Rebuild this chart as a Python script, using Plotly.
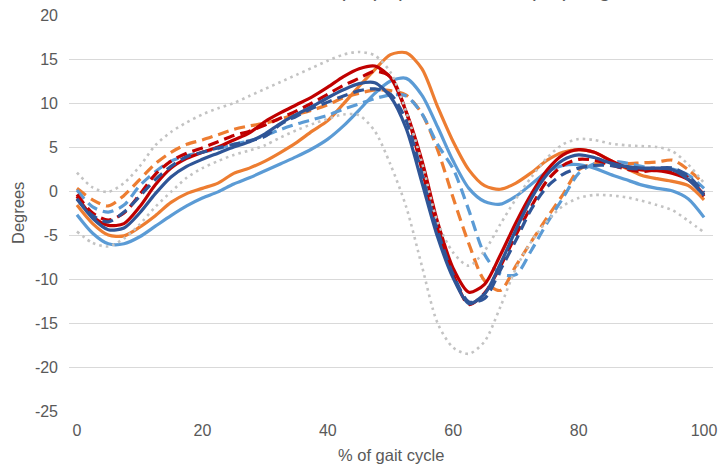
import plotly.graph_objects as go

# % of gait cycle
gait_pct = [0, 2.5, 5, 7.5, 10, 12.5, 15, 17.5, 20, 22.5, 25, 27.5, 30, 32.5, 35, 37.5, 40,
            42.5, 45, 47.5, 50, 52.5, 55, 57.5, 60, 62.5, 65, 67.5, 70, 72.5, 75, 77.5, 80,
            82.5, 85, 87.5, 90, 92.5, 95, 97.5, 100]

orange_solid = [-1.6, -3.7, -5.0, -5.1, -4.1, -2.8, -1.3, -0.3, 0.3, 0.9, 2.0, 2.6, 3.4, 4.4, 5.5, 6.8, 8.0,
                9.9, 11.9, 13.8, 15.5, 15.7, 13.9, 9.6, 5.6, 2.4, 0.6, 0.2, 0.9, 2.1, 3.5, 4.4, 4.7,
                4.4, 3.5, 2.6, 1.8, 1.4, 1.1, 0.6, -1.0]
orange_dashed = [0.3, -1.0, -1.7, -0.5, 1.3, 3.1, 4.4, 5.3, 5.8, 6.4, 7.0, 7.4, 7.7, 8.2, 8.7, 9.2, 9.8,
                 10.6, 11.1, 11.5, 11.4, 10.9, 8.8, 4.7, -0.8, -6.0, -10.2, -11.3, -8.5, -5.7, -3.0, -0.4, 2.4,
                 3.1, 3.1, 3.1, 3.2, 3.3, 3.5, 2.4, 0.8]
lightblue_solid = [-2.7, -4.8, -6.0, -6.0, -5.2, -4.0, -2.8, -1.7, -0.8, -0.1, 0.8, 1.5, 2.3, 3.1, 3.9, 4.8, 5.9,
                   7.4, 9.2, 11.1, 12.5, 12.8, 10.9, 7.3, 3.4, 0.3, -1.2, -1.5, -0.6, 0.8, 2.2, 2.9, 3.0,
                   2.6, 1.9, 1.3, 0.7, 0.3, 0.0, -0.9, -3.0]
lightblue_dashed = [0.1, -1.8, -2.4, -1.6, 0.6, 2.2, 3.4, 4.0, 4.4, 4.8, 5.3, 5.7, 6.3, 7.0, 7.6, 8.1, 8.6,
                    9.3, 9.9, 10.5, 10.9, 10.8, 8.8, 5.3, 2.5, -2.2, -7.2, -9.4, -9.5, -6.7, -3.6, -0.8, 2.0,
                    3.1, 3.4, 3.2, 2.8, 2.5, 2.5, 1.8, 0.3]
red_solid = [-0.6, -2.9, -3.9, -3.7, -1.8, 0.7, 2.6, 3.7, 4.4, 5.0, 5.8, 6.6, 7.9, 8.9, 9.8, 10.7, 11.8,
             13.0, 13.9, 14.2, 12.9, 9.0, 3.5, -3.5, -8.8, -11.5, -10.6, -7.3, -3.6, -0.3, 2.4, 4.1, 4.7,
             4.4, 3.5, 2.7, 2.4, 2.3, 2.0, 1.3, -0.4]
red_dashed = [-0.4, -2.5, -3.3, -2.5, -0.4, 1.9, 3.4, 4.3, 4.9, 5.6, 6.3, 6.8, 7.5, 8.3, 9.1, 10.0, 11.0,
              12.0, 12.8, 13.6, 13.0, 9.0, 2.5, -4.5, -9.5, -12.9, -11.6, -8.6, -5.0, -1.7, 1.2, 2.9, 3.6,
              3.5, 3.0, 2.5, 2.2, 2.4, 2.3, 1.5, -0.6]
darkblue_solid = [-0.9, -3.1, -4.4, -4.2, -2.5, -0.3, 1.6, 2.8, 3.6, 4.3, 5.0, 5.6, 6.5, 7.7, 8.7, 9.6, 10.6,
                  11.5, 12.2, 12.3, 10.7, 7.1, 1.0, -5.2, -9.9, -12.8, -11.7, -8.3, -4.4, -0.8, 1.9, 3.5, 4.1,
                  3.8, 3.2, 2.8, 2.6, 2.6, 2.4, 1.3, -0.5]
darkblue_dashed = [-0.9, -2.8, -3.5, -2.4, -0.6, 1.3, 2.8, 3.9, 4.4, 4.9, 5.3, 5.7, 6.2, 7.6, 8.5, 9.4, 10.1,
                   10.8, 11.4, 11.6, 11.0, 8.0, 2.0, -4.5, -9.5, -12.6, -12.2, -9.0, -5.6, -2.0, 0.5, 1.9, 2.6,
                   2.9, 2.9, 2.6, 2.5, 2.6, 2.6, 1.7, -0.2]
gray_upper = [2.1, 0.4, -0.1, 0.9, 2.8, 5.2, 6.7, 7.8, 8.7, 9.4, 10.0, 10.8, 11.6, 12.4, 13.2, 14.0, 14.8,
              15.5, 15.8, 15.4, 13.5, 9.0, 3.3, -3.5, -7.0, -8.5, -6.8, -3.8, -0.9, 1.6, 3.8, 5.3, 5.9,
              5.8, 5.4, 5.2, 5.1, 5.0, 4.5, 3.0, 0.9]
gray_lower = [-4.6, -5.9, -6.3, -5.4, -3.8, -1.8, -0.1, 1.5, 2.6, 3.4, 4.1, 4.6, 5.2, 6.1, 6.9, 7.6, 8.2,
              8.7, 8.6, 6.8, 3.0, -1.8, -8.5, -15.0, -17.8, -18.5, -17.1, -13.2, -8.8, -5.7, -3.4, -1.7, -0.8,
              -0.45, -0.5, -0.7, -1.1, -1.6, -2.2, -3.4, -4.7]

x_ticks = [0, 20, 40, 60, 80, 100]
y_ticks = [-25, -20, -15, -10, -5, 0, 5, 10, 15, 20]
y_ticktext = ["-25", "-20", "-15", "-10", "-5", "0", "5", "10", "15", "20"]

ORANGE = "#ED7D31"
LBLUE = "#5B9BD5"
RED = "#C00000"
DBLUE = "#2F5597"
GRAY = "#C3C3C3"
DASH = "11px,6px"
DOT = "2.6px,4px"

series = [
    ("Orange", orange_solid, ORANGE, "solid", 3.2),
    ("Light blue", lightblue_solid, LBLUE, "solid", 3.2),
    ("Orange dashed", orange_dashed, ORANGE, DASH, 3.2),
    ("Light blue dashed", lightblue_dashed, LBLUE, DASH, 3.2),
    ("Red", red_solid, RED, "solid", 3.2),
    ("Red dashed", red_dashed, RED, DASH, 3.2),
    ("Dark blue", darkblue_solid, DBLUE, "solid", 3.2),
    ("Dark blue dashed", darkblue_dashed, DBLUE, DASH, 3.2),
    ("Upper bound", gray_upper, GRAY, DOT, 2.6),
    ("Lower bound", gray_lower, GRAY, DOT, 2.6),
]

fig = go.Figure()
for name, vals, col, dash, w in series:
    fig.add_trace(go.Scatter(
        x=gait_pct, y=vals, name=name, mode="lines",
        line=dict(color=col, width=w, dash=dash, shape="spline", smoothing=0.8),
        showlegend=False,
    ))

FONT = "Liberation Sans, Arial, sans-serif"
TXT = "#595959"

fig.update_layout(
    width=721, height=473,
    margin=dict(l=69, r=4, t=15, b=62),
    paper_bgcolor="white", plot_bgcolor="white",
    font=dict(family=FONT, color=TXT, size=16),
    xaxis=dict(range=[-1.27, 101.43], tickvals=x_ticks, showgrid=False, zeroline=False,
               showline=False, ticks="", tickfont=dict(size=16, color=TXT),
               ticklabelstandoff=8, ticklabeloverflow="allow"),
    yaxis=dict(range=[-25, 20], tickvals=y_ticks, ticktext=y_ticktext, showgrid=True,
               gridcolor="#D9D9D9", gridwidth=1, zeroline=False, showline=False, ticks="",
               tickfont=dict(size=16, color=TXT), ticklabelstandoff=10),
    annotations=[
        dict(text="% of gait cycle", xref="paper", yref="paper", x=0.5, y=0,
             xanchor="center", yanchor="top", yshift=-33, showarrow=False,
             font=dict(size=16.5, color=TXT, family=FONT)),
        dict(text="Degrees", xref="paper", yref="paper", x=0, y=0.5, textangle=-90,
             xanchor="center", yanchor="middle", xshift=-51, showarrow=False,
             font=dict(size=16.5, color=TXT, family=FONT)),
        dict(text="Ankle dorsiflexion (DF) / plantarflexion (PF) angle", xref="paper", yref="paper",
             x=0.51, y=1, xanchor="center", yanchor="bottom", yshift=12, showarrow=False,
             font=dict(size=21, color=TXT, family=FONT)),
    ],
)

fig.write_html("out.html")
